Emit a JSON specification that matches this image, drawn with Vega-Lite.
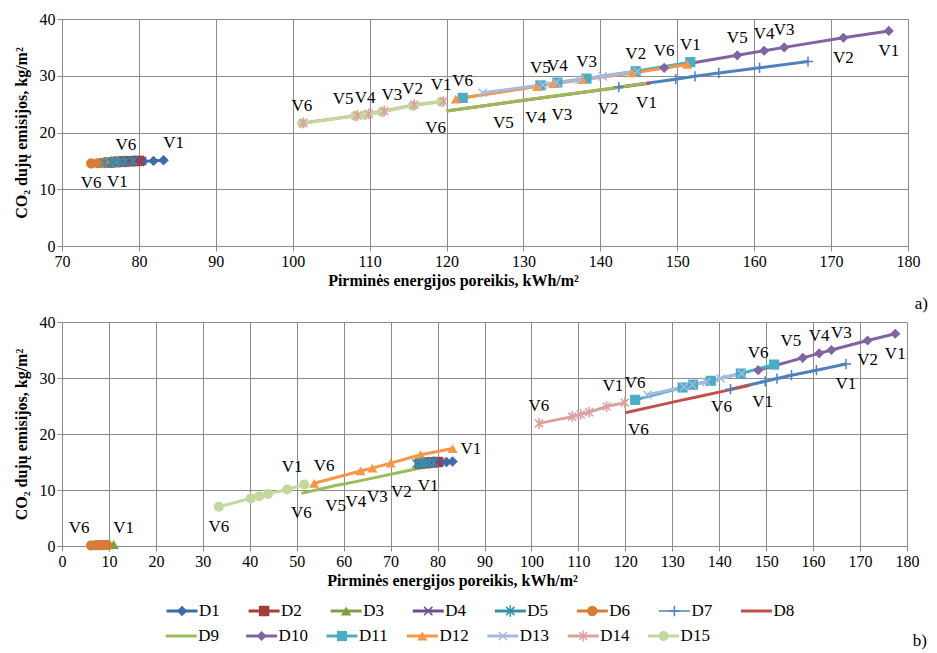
{
  "$schema": "https://vega.github.io/schema/vega-lite/v6.json",
  "background": "white",
  "padding": {"left": 12, "top": 10, "right": 5, "bottom": 4},
  "bounds": "flush",
  "spacing": 76,
  "datasets": {
    "series": [{"s":"D1"},{"s":"D2"},{"s":"D3"},{"s":"D4"},{"s":"D5"},{"s":"D6"},{"s":"D7"},{"s":"D8"},{"s":"D9"},{"s":"D10"},{"s":"D11"},{"s":"D12"},{"s":"D13"},{"s":"D14"},{"s":"D15"}],
    "pts": [
      {"p":"a","s":"D1","v":"V1","x":83.2,"y":15.1,"lp":"ar"},
      {"p":"a","s":"D1","v":"V2","x":81.9,"y":15.0},
      {"p":"a","s":"D1","v":"V3","x":80.6,"y":14.95},
      {"p":"a","s":"D1","v":"V4","x":79.8,"y":14.9},
      {"p":"a","s":"D1","v":"V5","x":79.2,"y":14.85},
      {"p":"a","s":"D1","v":"V6","x":78.3,"y":14.75,"lp":"above"},
      {"p":"a","s":"D2","v":"V1","x":80.0,"y":15.0},
      {"p":"a","s":"D2","v":"V2","x":79.0,"y":14.95},
      {"p":"a","s":"D2","v":"V3","x":78.2,"y":14.9},
      {"p":"a","s":"D2","v":"V4","x":77.6,"y":14.85},
      {"p":"a","s":"D2","v":"V5","x":77.1,"y":14.8},
      {"p":"a","s":"D2","v":"V6","x":76.2,"y":14.7},
      {"p":"a","s":"D3","v":"V1","x":78.0,"y":14.9},
      {"p":"a","s":"D3","v":"V2","x":77.0,"y":14.85},
      {"p":"a","s":"D3","v":"V3","x":76.2,"y":14.8},
      {"p":"a","s":"D3","v":"V4","x":75.6,"y":14.75},
      {"p":"a","s":"D3","v":"V5","x":75.2,"y":14.7},
      {"p":"a","s":"D3","v":"V6","x":74.4,"y":14.65},
      {"p":"a","s":"D4","v":"V1","x":80.4,"y":15.0},
      {"p":"a","s":"D4","v":"V2","x":79.4,"y":14.95},
      {"p":"a","s":"D4","v":"V3","x":78.6,"y":14.9},
      {"p":"a","s":"D4","v":"V4","x":78.0,"y":14.85},
      {"p":"a","s":"D4","v":"V5","x":77.5,"y":14.8},
      {"p":"a","s":"D4","v":"V6","x":76.6,"y":14.7},
      {"p":"a","s":"D5","v":"V1","x":79.2,"y":14.95},
      {"p":"a","s":"D5","v":"V2","x":78.2,"y":14.9},
      {"p":"a","s":"D5","v":"V3","x":77.4,"y":14.85},
      {"p":"a","s":"D5","v":"V4","x":76.8,"y":14.8},
      {"p":"a","s":"D5","v":"V5","x":76.4,"y":14.75},
      {"p":"a","s":"D5","v":"V6","x":75.5,"y":14.7},
      {"p":"a","s":"D6","v":"V1","x":77.2,"y":14.8,"lp":"below"},
      {"p":"a","s":"D6","v":"V2","x":76.3,"y":14.75},
      {"p":"a","s":"D6","v":"V3","x":75.6,"y":14.7},
      {"p":"a","s":"D6","v":"V4","x":75.1,"y":14.65},
      {"p":"a","s":"D6","v":"V5","x":74.7,"y":14.6},
      {"p":"a","s":"D6","v":"V6","x":73.8,"y":14.55,"lp":"below"},
      {"p":"a","s":"D7","v":"V1","x":167.0,"y":32.5},
      {"p":"a","s":"D7","v":"V2","x":160.7,"y":31.4},
      {"p":"a","s":"D7","v":"V3","x":155.4,"y":30.5},
      {"p":"a","s":"D7","v":"V4","x":152.3,"y":29.9},
      {"p":"a","s":"D7","v":"V5","x":149.8,"y":29.4},
      {"p":"a","s":"D7","v":"V6","x":142.4,"y":28.0},
      {"p":"a","s":"D8","v":"V1","x":146.5,"y":28.7},
      {"p":"a","s":"D8","v":"V2","x":141.2,"y":27.7},
      {"p":"a","s":"D8","v":"V3","x":135.2,"y":26.6},
      {"p":"a","s":"D8","v":"V4","x":131.8,"y":26.0},
      {"p":"a","s":"D8","v":"V5","x":127.5,"y":25.2},
      {"p":"a","s":"D8","v":"V6","x":120.0,"y":23.8},
      {"p":"a","s":"D9","v":"V1","x":146.0,"y":28.7,"lp":"below"},
      {"p":"a","s":"D9","v":"V2","x":141.0,"y":27.7,"lp":"below"},
      {"p":"a","s":"D9","v":"V3","x":135.0,"y":26.6,"lp":"below"},
      {"p":"a","s":"D9","v":"V4","x":131.6,"y":26.0,"lp":"below"},
      {"p":"a","s":"D9","v":"V5","x":127.4,"y":25.2,"lp":"below"},
      {"p":"a","s":"D9","v":"V6","x":120.0,"y":23.8,"lp":"bl"},
      {"p":"a","s":"D10","v":"V1","x":177.5,"y":37.9,"lp":"below"},
      {"p":"a","s":"D10","v":"V2","x":171.6,"y":36.7,"lp":"below"},
      {"p":"a","s":"D10","v":"V3","x":163.9,"y":35.0,"lp":"above"},
      {"p":"a","s":"D10","v":"V4","x":161.3,"y":34.4,"lp":"above"},
      {"p":"a","s":"D10","v":"V5","x":157.8,"y":33.6,"lp":"above"},
      {"p":"a","s":"D10","v":"V6","x":148.3,"y":31.4,"lp":"above"},
      {"p":"a","s":"D11","v":"V1","x":151.7,"y":32.4,"lp":"above"},
      {"p":"a","s":"D11","v":"V2","x":144.6,"y":30.8,"lp":"above"},
      {"p":"a","s":"D11","v":"V3","x":138.2,"y":29.5,"lp":"above"},
      {"p":"a","s":"D11","v":"V4","x":134.4,"y":28.8,"lp":"above"},
      {"p":"a","s":"D11","v":"V5","x":132.2,"y":28.3,"lp":"above"},
      {"p":"a","s":"D11","v":"V6","x":122.1,"y":26.1,"lp":"above"},
      {"p":"a","s":"D12","v":"V1","x":151.3,"y":32.0},
      {"p":"a","s":"D12","v":"V2","x":144.2,"y":30.5},
      {"p":"a","s":"D12","v":"V3","x":137.7,"y":29.3},
      {"p":"a","s":"D12","v":"V4","x":133.9,"y":28.6},
      {"p":"a","s":"D12","v":"V5","x":131.8,"y":28.1},
      {"p":"a","s":"D12","v":"V6","x":121.2,"y":25.9},
      {"p":"a","s":"D13","v":"V1","x":144.8,"y":30.8},
      {"p":"a","s":"D13","v":"V2","x":140.3,"y":29.9},
      {"p":"a","s":"D13","v":"V3","x":137.3,"y":29.3},
      {"p":"a","s":"D13","v":"V4","x":134.3,"y":28.8},
      {"p":"a","s":"D13","v":"V5","x":132.5,"y":28.4},
      {"p":"a","s":"D13","v":"V6","x":124.7,"y":27.0},
      {"p":"a","s":"D14","v":"V1","x":119.6,"y":25.5},
      {"p":"a","s":"D14","v":"V2","x":115.8,"y":24.9},
      {"p":"a","s":"D14","v":"V3","x":111.9,"y":23.8},
      {"p":"a","s":"D14","v":"V4","x":109.9,"y":23.3},
      {"p":"a","s":"D14","v":"V5","x":108.4,"y":23.0},
      {"p":"a","s":"D14","v":"V6","x":101.4,"y":21.7},
      {"p":"a","s":"D15","v":"V1","x":119.3,"y":25.4,"lp":"above"},
      {"p":"a","s":"D15","v":"V2","x":115.6,"y":24.7,"lp":"above"},
      {"p":"a","s":"D15","v":"V3","x":111.6,"y":23.6,"lp":"ar"},
      {"p":"a","s":"D15","v":"V4","x":109.4,"y":23.1,"lp":"above"},
      {"p":"a","s":"D15","v":"V5","x":108.1,"y":22.9,"lp":"al"},
      {"p":"a","s":"D15","v":"V6","x":101.2,"y":21.6,"lp":"above"},

      {"p":"b","s":"D1","v":"V1","x":83.2,"y":15.1},
      {"p":"b","s":"D1","v":"V2","x":81.9,"y":15.0},
      {"p":"b","s":"D1","v":"V3","x":80.6,"y":14.95},
      {"p":"b","s":"D1","v":"V4","x":79.8,"y":14.9},
      {"p":"b","s":"D1","v":"V5","x":79.2,"y":14.85},
      {"p":"b","s":"D1","v":"V6","x":78.3,"y":14.75},
      {"p":"b","s":"D2","v":"V1","x":80.0,"y":15.0},
      {"p":"b","s":"D2","v":"V2","x":79.0,"y":14.95},
      {"p":"b","s":"D2","v":"V3","x":78.2,"y":14.9},
      {"p":"b","s":"D2","v":"V4","x":77.6,"y":14.85},
      {"p":"b","s":"D2","v":"V5","x":77.1,"y":14.8},
      {"p":"b","s":"D2","v":"V6","x":76.2,"y":14.7},
      {"p":"b","s":"D3","v":"V1","x":11.0,"y":0.25,"lp":"ar"},
      {"p":"b","s":"D3","v":"V2","x":10.0,"y":0.22},
      {"p":"b","s":"D3","v":"V3","x":9.2,"y":0.2},
      {"p":"b","s":"D3","v":"V4","x":8.6,"y":0.18},
      {"p":"b","s":"D3","v":"V5","x":8.2,"y":0.17},
      {"p":"b","s":"D3","v":"V6","x":7.2,"y":0.15},
      {"p":"b","s":"D4","v":"V1","x":80.4,"y":15.0},
      {"p":"b","s":"D4","v":"V2","x":79.4,"y":14.95},
      {"p":"b","s":"D4","v":"V3","x":78.6,"y":14.9},
      {"p":"b","s":"D4","v":"V4","x":78.0,"y":14.85},
      {"p":"b","s":"D4","v":"V5","x":77.5,"y":14.8},
      {"p":"b","s":"D4","v":"V6","x":76.6,"y":14.7},
      {"p":"b","s":"D5","v":"V1","x":79.2,"y":14.95},
      {"p":"b","s":"D5","v":"V2","x":78.2,"y":14.9},
      {"p":"b","s":"D5","v":"V3","x":77.4,"y":14.85},
      {"p":"b","s":"D5","v":"V4","x":76.8,"y":14.8},
      {"p":"b","s":"D5","v":"V5","x":76.4,"y":14.75},
      {"p":"b","s":"D5","v":"V6","x":75.5,"y":14.7},
      {"p":"b","s":"D6","v":"V1","x":9.6,"y":0.2},
      {"p":"b","s":"D6","v":"V2","x":8.7,"y":0.18},
      {"p":"b","s":"D6","v":"V3","x":8.1,"y":0.16},
      {"p":"b","s":"D6","v":"V4","x":7.6,"y":0.15},
      {"p":"b","s":"D6","v":"V5","x":7.2,"y":0.14},
      {"p":"b","s":"D6","v":"V6","x":6.2,"y":0.12,"lp":"al"},
      {"p":"b","s":"D7","v":"V1","x":167.0,"y":32.5,"lp":"below"},
      {"p":"b","s":"D7","v":"V2","x":160.7,"y":31.4},
      {"p":"b","s":"D7","v":"V3","x":155.4,"y":30.5},
      {"p":"b","s":"D7","v":"V4","x":152.3,"y":29.9},
      {"p":"b","s":"D7","v":"V5","x":149.8,"y":29.4},
      {"p":"b","s":"D7","v":"V6","x":142.4,"y":28.0,"lp":"bl"},
      {"p":"b","s":"D8","v":"V1","x":146.5,"y":28.7,"lp":"br"},
      {"p":"b","s":"D8","v":"V2","x":141.2,"y":27.7},
      {"p":"b","s":"D8","v":"V3","x":135.2,"y":26.6},
      {"p":"b","s":"D8","v":"V4","x":131.8,"y":26.0},
      {"p":"b","s":"D8","v":"V5","x":127.5,"y":25.2},
      {"p":"b","s":"D8","v":"V6","x":120.0,"y":23.8,"lp":"br"},
      {"p":"b","s":"D9","v":"V1","x":78.0,"y":14.2,"lp":"below"},
      {"p":"b","s":"D9","v":"V2","x":72.3,"y":13.2,"lp":"below"},
      {"p":"b","s":"D9","v":"V3","x":67.2,"y":12.3,"lp":"below"},
      {"p":"b","s":"D9","v":"V4","x":62.6,"y":11.5,"lp":"below"},
      {"p":"b","s":"D9","v":"V5","x":58.3,"y":10.8,"lp":"below"},
      {"p":"b","s":"D9","v":"V6","x":51.0,"y":9.4,"lp":"below"},
      {"p":"b","s":"D10","v":"V1","x":177.5,"y":37.9,"lp":"below"},
      {"p":"b","s":"D10","v":"V2","x":171.6,"y":36.7,"lp":"below"},
      {"p":"b","s":"D10","v":"V3","x":163.9,"y":35.0,"lp":"ar"},
      {"p":"b","s":"D10","v":"V4","x":161.3,"y":34.4,"lp":"above"},
      {"p":"b","s":"D10","v":"V5","x":157.8,"y":33.6,"lp":"al"},
      {"p":"b","s":"D10","v":"V6","x":148.3,"y":31.4,"lp":"above"},
      {"p":"b","s":"D11","v":"V1","x":151.7,"y":32.4},
      {"p":"b","s":"D11","v":"V2","x":144.6,"y":30.8},
      {"p":"b","s":"D11","v":"V3","x":138.2,"y":29.5},
      {"p":"b","s":"D11","v":"V4","x":134.4,"y":28.8},
      {"p":"b","s":"D11","v":"V5","x":132.2,"y":28.3},
      {"p":"b","s":"D11","v":"V6","x":122.1,"y":26.1,"lp":"above"},
      {"p":"b","s":"D12","v":"V1","x":83.2,"y":17.4,"lp":"right"},
      {"p":"b","s":"D12","v":"V2","x":76.4,"y":16.3},
      {"p":"b","s":"D12","v":"V3","x":70.0,"y":14.8},
      {"p":"b","s":"D12","v":"V4","x":66.1,"y":13.9},
      {"p":"b","s":"D12","v":"V5","x":63.6,"y":13.4},
      {"p":"b","s":"D12","v":"V6","x":53.7,"y":11.2,"lp":"ar"},
      {"p":"b","s":"D13","v":"V1","x":144.8,"y":30.8},
      {"p":"b","s":"D13","v":"V2","x":140.3,"y":29.9},
      {"p":"b","s":"D13","v":"V3","x":137.3,"y":29.3},
      {"p":"b","s":"D13","v":"V4","x":134.3,"y":28.8},
      {"p":"b","s":"D13","v":"V5","x":132.5,"y":28.4},
      {"p":"b","s":"D13","v":"V6","x":124.7,"y":27.0},
      {"p":"b","s":"D14","v":"V1","x":119.9,"y":25.6,"lp":"al"},
      {"p":"b","s":"D14","v":"V2","x":116.0,"y":24.9},
      {"p":"b","s":"D14","v":"V3","x":112.3,"y":23.9},
      {"p":"b","s":"D14","v":"V4","x":110.5,"y":23.5},
      {"p":"b","s":"D14","v":"V5","x":108.7,"y":23.1},
      {"p":"b","s":"D14","v":"V6","x":101.6,"y":21.9,"lp":"above"},
      {"p":"b","s":"D15","v":"V1","x":51.6,"y":11.0,"lp":"al"},
      {"p":"b","s":"D15","v":"V2","x":48.0,"y":10.1},
      {"p":"b","s":"D15","v":"V3","x":43.9,"y":9.3},
      {"p":"b","s":"D15","v":"V4","x":42.0,"y":8.9},
      {"p":"b","s":"D15","v":"V5","x":40.2,"y":8.5},
      {"p":"b","s":"D15","v":"V6","x":33.4,"y":7.0,"lp":"below"}
    ]
  },
  "vconcat": [
    {
      "width": 846,
      "height": 227,
      "title": {"text": "a)", "orient": "bottom", "anchor": "end", "fontSize": 17, "fontWeight": "normal", "font": "Liberation Serif", "dx": 8, "offset": 8},
      "data": {"name": "pts"},
      "encoding": {
        "x": {"field": "x", "type": "quantitative", "scale": {"domain": [70, 180], "nice": false, "zero": false}, "axis": {"values": [70,80,90,100,110,120,130,140,150,160,170,180], "title": "Pirminės energijos poreikis, kWh/m²", "labelFlush": false, "titleX": 391}},
        "y": {"field": "y", "type": "quantitative", "scale": {"domain": [0, 40], "nice": false}, "axis": {"values": [0,10,20,30,40], "title": "CO₂ dujų emisijos, kg/m²"}}
      },
      "layer": [
        {
          "transform": [{"filter": "datum.p === 'a'"}],
          "mark": {"type": "line"},
          "encoding": {
            "color": {"field": "s", "type": "nominal", "scale": {"domain": ["D1","D2","D3","D4","D5","D6","D7","D8","D9","D10","D11","D12","D13","D14","D15"], "range": ["#3C6BA8","#A23E3A","#7F9E3F","#6C4E90","#3290AA","#D67C36","#4F81BD","#C0504D","#9BBB59","#8064A2","#4BACC6","#F79646","#A7B9DF","#DCA09E","#C4D79E"]}, "legend": null},
            "strokeWidth": {"field": "s", "type": "nominal", "scale": {"domain": ["D1","D2","D3","D4","D5","D6","D7","D8","D9","D10","D11","D12","D13","D14","D15"], "range": [3,3,3,3,3,3,1.5,3,3.5,3,3,3,3,3,3]}, "legend": null}
          }
        },
        {
          "transform": [{"filter": "datum.p === 'a'"}, {"filter": {"field": "s", "oneOf": ["D1","D2","D3","D6","D10","D11","D12","D15"]}}],
          "mark": {"type": "point", "filled": true, "opacity": 1},
          "encoding": {
            "color": {"field": "s", "type": "nominal", "scale": {"domain": ["D1","D2","D3","D4","D5","D6","D7","D8","D9","D10","D11","D12","D13","D14","D15"], "range": ["#3C6BA8","#A23E3A","#7F9E3F","#6C4E90","#3290AA","#D67C36","#4F81BD","#C0504D","#9BBB59","#8064A2","#4BACC6","#F79646","#A7B9DF","#DCA09E","#C4D79E"]}, "legend": null},
            "shape": {"field": "s", "type": "nominal", "scale": {"domain": ["D1","D2","D3","D4","D5","D6","D7","D8","D9","D10","D11","D12","D13","D14","D15"], "range": ["diamond","square","triangle-up","M-0.8,-0.8L0.8,0.8M-0.8,0.8L0.8,-0.8","M-0.8,-0.8L0.8,0.8M-0.8,0.8L0.8,-0.8M0,-1.1L0,1.1","circle","M-1,0L1,0M0,-1L0,1","circle","circle","diamond","square","triangle-up","M-0.8,-0.8L0.8,0.8M-0.8,0.8L0.8,-0.8","M-0.8,-0.8L0.8,0.8M-0.8,0.8L0.8,-0.8M0,-1.1L0,1.1","circle"]}, "legend": null},
            "size": {"field": "s", "type": "nominal", "scale": {"domain": ["D1","D2","D3","D4","D5","D6","D7","D8","D9","D10","D11","D12","D13","D14","D15"], "range": [110,100,120,120,120,120,70,10,10,110,110,130,120,120,140]}, "legend": null}
          }
        },
        {
          "transform": [{"filter": "datum.p === 'a'"}, {"filter": {"field": "s", "oneOf": ["D4","D5","D7","D13","D14"]}}],
          "mark": {"type": "point", "filled": false, "strokeWidth": 1.5, "opacity": 1},
          "encoding": {
            "color": {"field": "s", "type": "nominal", "scale": {"domain": ["D1","D2","D3","D4","D5","D6","D7","D8","D9","D10","D11","D12","D13","D14","D15"], "range": ["#3C6BA8","#A23E3A","#7F9E3F","#6C4E90","#3290AA","#D67C36","#4F81BD","#C0504D","#9BBB59","#8064A2","#4BACC6","#F79646","#A7B9DF","#DCA09E","#C4D79E"]}, "legend": null},
            "shape": {"field": "s", "type": "nominal", "scale": {"domain": ["D1","D2","D3","D4","D5","D6","D7","D8","D9","D10","D11","D12","D13","D14","D15"], "range": ["diamond","square","triangle-up","M-0.8,-0.8L0.8,0.8M-0.8,0.8L0.8,-0.8","M-0.8,-0.8L0.8,0.8M-0.8,0.8L0.8,-0.8M0,-1.1L0,1.1","circle","M-1,0L1,0M0,-1L0,1","circle","circle","diamond","square","triangle-up","M-0.8,-0.8L0.8,0.8M-0.8,0.8L0.8,-0.8","M-0.8,-0.8L0.8,0.8M-0.8,0.8L0.8,-0.8M0,-1.1L0,1.1","circle"]}, "legend": null},
            "size": {"field": "s", "type": "nominal", "scale": {"domain": ["D1","D2","D3","D4","D5","D6","D7","D8","D9","D10","D11","D12","D13","D14","D15"], "range": [110,100,120,120,120,120,70,10,10,110,110,130,120,120,140]}, "legend": null}
          }
        },
        {
          "data": {"values": [{"x": 120}]},
          "mark": {"type": "rule", "color": "#C00000", "strokeWidth": 3, "strokeDash": [12, 6]},
          "encoding": {"x": {"field": "x", "type": "quantitative"}, "y": {"datum": 0}, "y2": {"datum": 40}}
        },
        {"transform": [{"filter": "datum.p === 'a' && datum.lp === 'above'"}], "mark": {"type": "text", "dy": -17}, "encoding": {"text": {"field": "v"}}},
        {"transform": [{"filter": "datum.p === 'a' && datum.lp === 'al'"}], "mark": {"type": "text", "dy": -17, "dx": -12}, "encoding": {"text": {"field": "v"}}},
        {"transform": [{"filter": "datum.p === 'a' && datum.lp === 'ar'"}], "mark": {"type": "text", "dy": -17, "dx": 10}, "encoding": {"text": {"field": "v"}}},
        {"transform": [{"filter": "datum.p === 'a' && datum.lp === 'below'"}], "mark": {"type": "text", "dy": 20}, "encoding": {"text": {"field": "v"}}},
        {"transform": [{"filter": "datum.p === 'a' && datum.lp === 'bl'"}], "mark": {"type": "text", "dy": 17, "dx": -11}, "encoding": {"text": {"field": "v"}}},
        {"transform": [{"filter": "datum.p === 'a' && datum.lp === 'br'"}], "mark": {"type": "text", "dy": 17, "dx": 13}, "encoding": {"text": {"field": "v"}}},
        {"transform": [{"filter": "datum.p === 'a' && datum.lp === 'right'"}], "mark": {"type": "text", "dx": 8, "align": "left"}, "encoding": {"text": {"field": "v"}}}
      ]
    },
    {
      "bounds": "flush",
      "spacing": 52.5,
      "vconcat": [
        {
          "width": 845,
          "height": 224,
          "title": {"text": "b)", "orient": "bottom", "anchor": "end", "fontSize": 17, "fontWeight": "normal", "font": "Liberation Serif", "dx": 8, "offset": 45},
          "data": {"name": "pts"},
          "encoding": {
            "x": {"field": "x", "type": "quantitative", "scale": {"domain": [0, 180], "nice": false, "zero": false}, "axis": {"values": [0,10,20,30,40,50,60,70,80,90,100,110,120,130,140,150,160,170,180], "title": "Pirminės energijos poreikis, kWh/m²", "labelFlush": false, "titleX": 390}},
            "y": {"field": "y", "type": "quantitative", "scale": {"domain": [0, 40], "nice": false}, "axis": {"values": [0,10,20,30,40], "title": "CO₂ dujų emisijos, kg/m²"}}
          },
          "layer": [
            {
              "transform": [{"filter": "datum.p === 'b'"}],
              "mark": {"type": "line"},
              "encoding": {
                "color": {"field": "s", "type": "nominal", "scale": {"domain": ["D1","D2","D3","D4","D5","D6","D7","D8","D9","D10","D11","D12","D13","D14","D15"], "range": ["#3C6BA8","#A23E3A","#7F9E3F","#6C4E90","#3290AA","#D67C36","#4F81BD","#C0504D","#9BBB59","#8064A2","#4BACC6","#F79646","#A7B9DF","#DCA09E","#C4D79E"]}, "legend": null},
                "strokeWidth": {"field": "s", "type": "nominal", "scale": {"domain": ["D1","D2","D3","D4","D5","D6","D7","D8","D9","D10","D11","D12","D13","D14","D15"], "range": [3,3,3,3,3,3,1.5,3,3.5,3,3,3,3,3,3]}, "legend": null}
              }
            },
            {
              "transform": [{"filter": "datum.p === 'b'"}, {"filter": {"field": "s", "oneOf": ["D1","D2","D3","D6","D10","D11","D12","D15"]}}],
              "mark": {"type": "point", "filled": true, "opacity": 1},
              "encoding": {
                "color": {"field": "s", "type": "nominal", "scale": {"domain": ["D1","D2","D3","D4","D5","D6","D7","D8","D9","D10","D11","D12","D13","D14","D15"], "range": ["#3C6BA8","#A23E3A","#7F9E3F","#6C4E90","#3290AA","#D67C36","#4F81BD","#C0504D","#9BBB59","#8064A2","#4BACC6","#F79646","#A7B9DF","#DCA09E","#C4D79E"]}, "legend": null},
                "shape": {"field": "s", "type": "nominal", "scale": {"domain": ["D1","D2","D3","D4","D5","D6","D7","D8","D9","D10","D11","D12","D13","D14","D15"], "range": ["diamond","square","triangle-up","M-0.8,-0.8L0.8,0.8M-0.8,0.8L0.8,-0.8","M-0.8,-0.8L0.8,0.8M-0.8,0.8L0.8,-0.8M0,-1.1L0,1.1","circle","M-1,0L1,0M0,-1L0,1","circle","circle","diamond","square","triangle-up","M-0.8,-0.8L0.8,0.8M-0.8,0.8L0.8,-0.8","M-0.8,-0.8L0.8,0.8M-0.8,0.8L0.8,-0.8M0,-1.1L0,1.1","circle"]}, "legend": null},
                "size": {"field": "s", "type": "nominal", "scale": {"domain": ["D1","D2","D3","D4","D5","D6","D7","D8","D9","D10","D11","D12","D13","D14","D15"], "range": [110,100,120,120,120,120,70,10,10,110,110,130,120,120,140]}, "legend": null}
              }
            },
            {
              "transform": [{"filter": "datum.p === 'b'"}, {"filter": {"field": "s", "oneOf": ["D4","D5","D7","D13","D14"]}}],
              "mark": {"type": "point", "filled": false, "strokeWidth": 1.5, "opacity": 1},
              "encoding": {
                "color": {"field": "s", "type": "nominal", "scale": {"domain": ["D1","D2","D3","D4","D5","D6","D7","D8","D9","D10","D11","D12","D13","D14","D15"], "range": ["#3C6BA8","#A23E3A","#7F9E3F","#6C4E90","#3290AA","#D67C36","#4F81BD","#C0504D","#9BBB59","#8064A2","#4BACC6","#F79646","#A7B9DF","#DCA09E","#C4D79E"]}, "legend": null},
                "shape": {"field": "s", "type": "nominal", "scale": {"domain": ["D1","D2","D3","D4","D5","D6","D7","D8","D9","D10","D11","D12","D13","D14","D15"], "range": ["diamond","square","triangle-up","M-0.8,-0.8L0.8,0.8M-0.8,0.8L0.8,-0.8","M-0.8,-0.8L0.8,0.8M-0.8,0.8L0.8,-0.8M0,-1.1L0,1.1","circle","M-1,0L1,0M0,-1L0,1","circle","circle","diamond","square","triangle-up","M-0.8,-0.8L0.8,0.8M-0.8,0.8L0.8,-0.8","M-0.8,-0.8L0.8,0.8M-0.8,0.8L0.8,-0.8M0,-1.1L0,1.1","circle"]}, "legend": null},
                "size": {"field": "s", "type": "nominal", "scale": {"domain": ["D1","D2","D3","D4","D5","D6","D7","D8","D9","D10","D11","D12","D13","D14","D15"], "range": [110,100,120,120,120,120,70,10,10,110,110,130,120,120,140]}, "legend": null}
              }
            },
            {
              "data": {"values": [{"x": 120}]},
              "mark": {"type": "rule", "color": "#C00000", "strokeWidth": 3, "strokeDash": [12, 6]},
              "encoding": {"x": {"field": "x", "type": "quantitative"}, "y": {"datum": 0}, "y2": {"datum": 40}}
            },
            {"transform": [{"filter": "datum.p === 'b' && datum.lp === 'above'"}], "mark": {"type": "text", "dy": -17}, "encoding": {"text": {"field": "v"}}},
            {"transform": [{"filter": "datum.p === 'b' && datum.lp === 'al'"}], "mark": {"type": "text", "dy": -17, "dx": -12}, "encoding": {"text": {"field": "v"}}},
            {"transform": [{"filter": "datum.p === 'b' && datum.lp === 'ar'"}], "mark": {"type": "text", "dy": -17, "dx": 10}, "encoding": {"text": {"field": "v"}}},
            {"transform": [{"filter": "datum.p === 'b' && datum.lp === 'below'"}], "mark": {"type": "text", "dy": 20}, "encoding": {"text": {"field": "v"}}},
            {"transform": [{"filter": "datum.p === 'b' && datum.lp === 'bl'"}], "mark": {"type": "text", "dy": 18, "dx": -9}, "encoding": {"text": {"field": "v"}}},
            {"transform": [{"filter": "datum.p === 'b' && datum.lp === 'br'"}], "mark": {"type": "text", "dy": 17, "dx": 13}, "encoding": {"text": {"field": "v"}}},
            {"transform": [{"filter": "datum.p === 'b' && datum.lp === 'right'"}], "mark": {"type": "text", "dx": 8, "align": "left"}, "encoding": {"text": {"field": "v"}}}
          ]
        },
        {
          "bounds": "flush",
          "spacing": 0,
          "vconcat": [
            {
              "width": 845,
              "height": 25,
              "view": {"stroke": null},
              "data": {"name": "series"},
              "transform": [{"filter": {"field": "s", "oneOf": ["D1","D2","D3","D4","D5","D6","D7","D8"]}}],
              "encoding": {
                "x": {"field": "s", "type": "nominal", "scale": {"type": "point", "domain": ["D1","D2","D3","D4","D5","D6","D7","D8"], "range": [79, 735.5]}, "axis": null},
                "color": {"field": "s", "type": "nominal", "scale": {"domain": ["D1","D2","D3","D4","D5","D6","D7","D8","D9","D10","D11","D12","D13","D14","D15"], "range": ["#3C6BA8","#A23E3A","#7F9E3F","#6C4E90","#3290AA","#D67C36","#4F81BD","#C0504D","#9BBB59","#8064A2","#4BACC6","#F79646","#A7B9DF","#DCA09E","#C4D79E"]}, "legend": null}
              },
              "layer": [
                {"transform": [{"filter": "datum.s !== 'D7'"}], "mark": {"type": "tick", "orient": "horizontal", "size": 31, "thickness": 3, "opacity": 1}},
                {"transform": [{"filter": "datum.s === 'D7'"}], "mark": {"type": "tick", "orient": "horizontal", "size": 31, "thickness": 1.5, "opacity": 1}},
                {"transform": [{"filter": {"field": "s", "oneOf": ["D1","D2","D3","D6"]}}], "mark": {"type": "point", "filled": true, "opacity": 1},
                 "encoding": {"shape": {"field": "s", "type": "nominal", "scale": {"domain": ["D1","D2","D3","D4","D5","D6","D7","D8","D9","D10","D11","D12","D13","D14","D15"], "range": ["diamond","square","triangle-up","M-0.8,-0.8L0.8,0.8M-0.8,0.8L0.8,-0.8","M-0.8,-0.8L0.8,0.8M-0.8,0.8L0.8,-0.8M0,-1.1L0,1.1","circle","M-1,0L1,0M0,-1L0,1","circle","circle","diamond","square","triangle-up","M-0.8,-0.8L0.8,0.8M-0.8,0.8L0.8,-0.8","M-0.8,-0.8L0.8,0.8M-0.8,0.8L0.8,-0.8M0,-1.1L0,1.1","circle"]}, "legend": null},
                   "size": {"field": "s", "type": "nominal", "scale": {"domain": ["D1","D2","D3","D4","D5","D6","D7","D8","D9","D10","D11","D12","D13","D14","D15"], "range": [110,100,120,120,120,120,70,10,10,110,110,130,120,120,140]}, "legend": null}}},
                {"transform": [{"filter": {"field": "s", "oneOf": ["D4","D5","D7"]}}], "mark": {"type": "point", "filled": false, "strokeWidth": 1.5, "opacity": 1},
                 "encoding": {"shape": {"field": "s", "type": "nominal", "scale": {"domain": ["D1","D2","D3","D4","D5","D6","D7","D8","D9","D10","D11","D12","D13","D14","D15"], "range": ["diamond","square","triangle-up","M-0.8,-0.8L0.8,0.8M-0.8,0.8L0.8,-0.8","M-0.8,-0.8L0.8,0.8M-0.8,0.8L0.8,-0.8M0,-1.1L0,1.1","circle","M-1,0L1,0M0,-1L0,1","circle","circle","diamond","square","triangle-up","M-0.8,-0.8L0.8,0.8M-0.8,0.8L0.8,-0.8","M-0.8,-0.8L0.8,0.8M-0.8,0.8L0.8,-0.8M0,-1.1L0,1.1","circle"]}, "legend": null},
                   "size": {"field": "s", "type": "nominal", "scale": {"domain": ["D1","D2","D3","D4","D5","D6","D7","D8","D9","D10","D11","D12","D13","D14","D15"], "range": [110,100,120,120,120,120,70,10,10,110,110,130,120,120,140]}, "legend": null}}},
                {"mark": {"type": "text", "align": "left", "dx": 17}, "encoding": {"text": {"field": "s"}, "color": {"value": "#000000"}}}
              ]
            },
            {
              "width": 845,
              "height": 25,
              "view": {"stroke": null},
              "data": {"name": "series"},
              "transform": [{"filter": {"field": "s", "oneOf": ["D9","D10","D11","D12","D13","D14","D15"]}}],
              "encoding": {
                "x": {"field": "s", "type": "nominal", "scale": {"type": "point", "domain": ["D9","D10","D11","D12","D13","D14","D15"], "range": [79, 641.8]}, "axis": null},
                "color": {"field": "s", "type": "nominal", "scale": {"domain": ["D1","D2","D3","D4","D5","D6","D7","D8","D9","D10","D11","D12","D13","D14","D15"], "range": ["#3C6BA8","#A23E3A","#7F9E3F","#6C4E90","#3290AA","#D67C36","#4F81BD","#C0504D","#9BBB59","#8064A2","#4BACC6","#F79646","#A7B9DF","#DCA09E","#C4D79E"]}, "legend": null}
              },
              "layer": [
                {"mark": {"type": "tick", "orient": "horizontal", "size": 31, "thickness": 3, "opacity": 1}},
                {"transform": [{"filter": {"field": "s", "oneOf": ["D10","D11","D12","D15"]}}], "mark": {"type": "point", "filled": true, "opacity": 1},
                 "encoding": {"shape": {"field": "s", "type": "nominal", "scale": {"domain": ["D1","D2","D3","D4","D5","D6","D7","D8","D9","D10","D11","D12","D13","D14","D15"], "range": ["diamond","square","triangle-up","M-0.8,-0.8L0.8,0.8M-0.8,0.8L0.8,-0.8","M-0.8,-0.8L0.8,0.8M-0.8,0.8L0.8,-0.8M0,-1.1L0,1.1","circle","M-1,0L1,0M0,-1L0,1","circle","circle","diamond","square","triangle-up","M-0.8,-0.8L0.8,0.8M-0.8,0.8L0.8,-0.8","M-0.8,-0.8L0.8,0.8M-0.8,0.8L0.8,-0.8M0,-1.1L0,1.1","circle"]}, "legend": null},
                   "size": {"field": "s", "type": "nominal", "scale": {"domain": ["D1","D2","D3","D4","D5","D6","D7","D8","D9","D10","D11","D12","D13","D14","D15"], "range": [110,100,120,120,120,120,70,10,10,110,110,130,120,120,140]}, "legend": null}}},
                {"transform": [{"filter": {"field": "s", "oneOf": ["D13","D14"]}}], "mark": {"type": "point", "filled": false, "strokeWidth": 1.5, "opacity": 1},
                 "encoding": {"shape": {"field": "s", "type": "nominal", "scale": {"domain": ["D1","D2","D3","D4","D5","D6","D7","D8","D9","D10","D11","D12","D13","D14","D15"], "range": ["diamond","square","triangle-up","M-0.8,-0.8L0.8,0.8M-0.8,0.8L0.8,-0.8","M-0.8,-0.8L0.8,0.8M-0.8,0.8L0.8,-0.8M0,-1.1L0,1.1","circle","M-1,0L1,0M0,-1L0,1","circle","circle","diamond","square","triangle-up","M-0.8,-0.8L0.8,0.8M-0.8,0.8L0.8,-0.8","M-0.8,-0.8L0.8,0.8M-0.8,0.8L0.8,-0.8M0,-1.1L0,1.1","circle"]}, "legend": null},
                   "size": {"field": "s", "type": "nominal", "scale": {"domain": ["D1","D2","D3","D4","D5","D6","D7","D8","D9","D10","D11","D12","D13","D14","D15"], "range": [110,100,120,120,120,120,70,10,10,110,110,130,120,120,140]}, "legend": null}}},
                {"mark": {"type": "text", "align": "left", "dx": 17}, "encoding": {"text": {"field": "s"}, "color": {"value": "#000000"}}}
              ]
            }
          ]
        }
      ]
    }
  ],
  "config": {
    "font": "Liberation Serif",
    "view": {"stroke": "#8C8C8C", "strokeWidth": 1},
    "axis": {"labelFont": "Liberation Serif", "labelFontSize": 16, "labelColor": "#000000", "titleFont": "Liberation Serif", "titleFontSize": 16, "titleFontWeight": "bold", "titleColor": "#000000", "gridColor": "#8C8C8C", "gridOpacity": 1, "domainColor": "#8C8C8C", "tickColor": "#8C8C8C", "tickSize": 5, "labelPadding": 2},
    "axisY": {"titlePadding": 10},
    "axisX": {"titlePadding": 3},
    "text": {"font": "Liberation Serif", "fontSize": 17, "color": "#000000"}
  }
}
